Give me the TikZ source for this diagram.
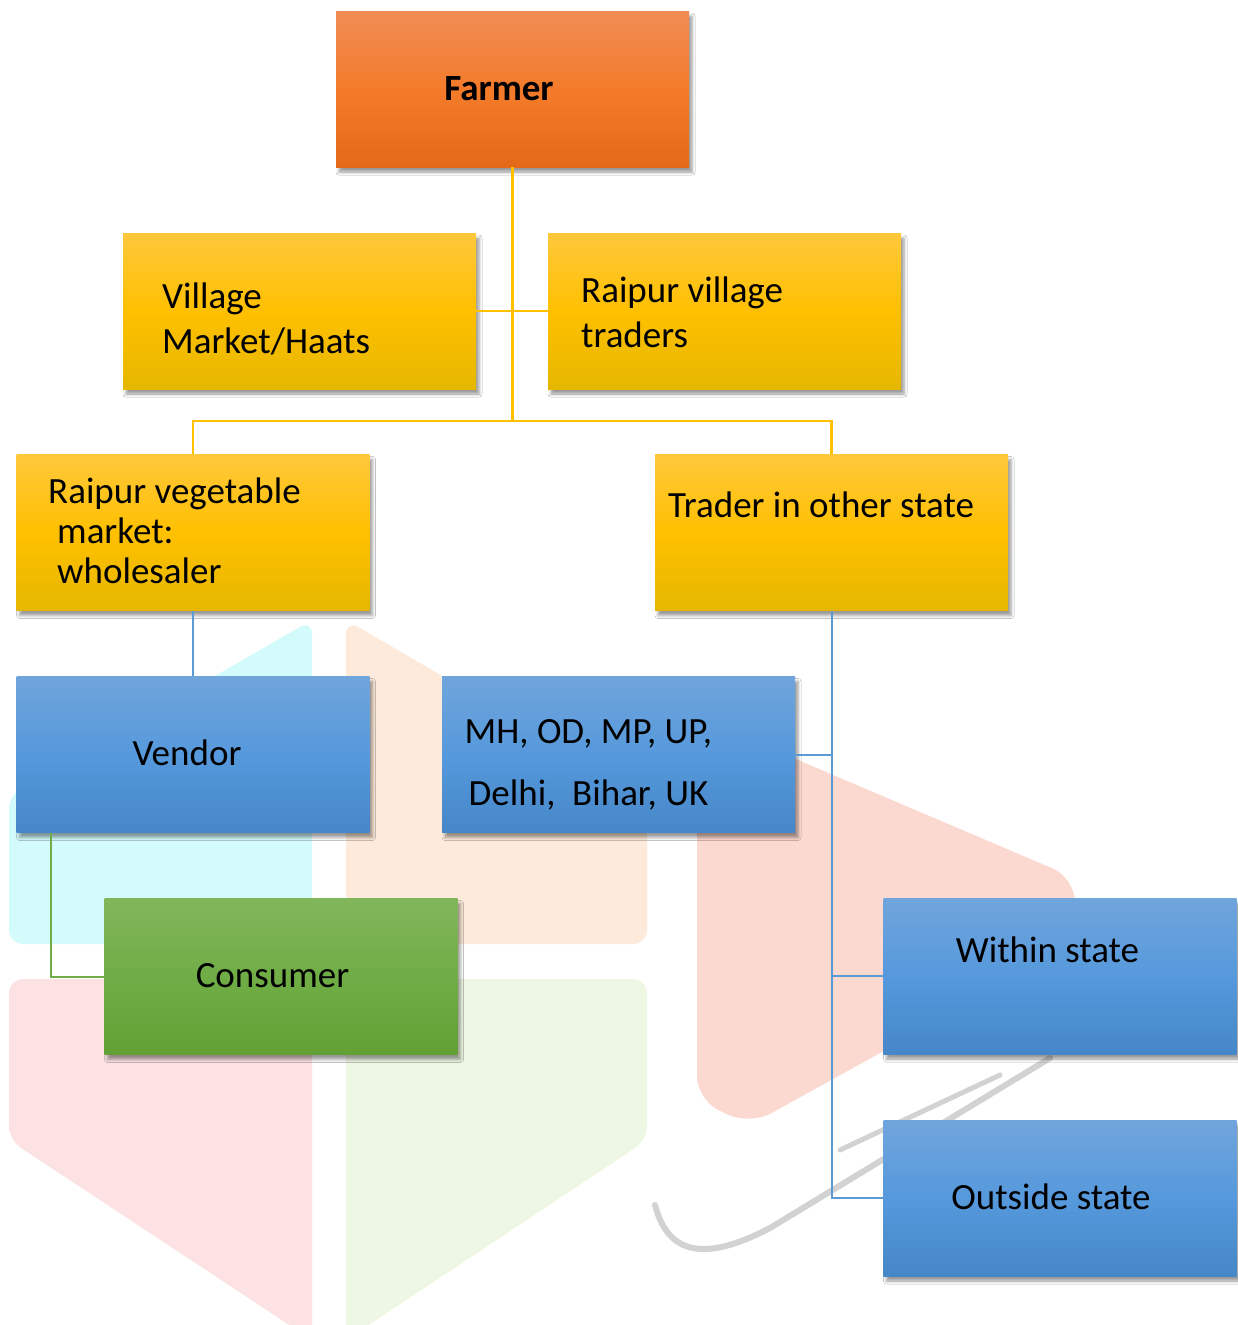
\documentclass[tikz,border=0pt]{standalone}
\usepackage{fontspec}
\setmainfont{Carlito}
\usetikzlibrary{shadows.blur}
\definecolor{orTop}{HTML}{EF8C55}
\definecolor{orMid}{HTML}{F47B2A}
\definecolor{orBot}{HTML}{E46A1A}
\definecolor{yTop}{HTML}{FFC83C}
\definecolor{yMid}{HTML}{FFC000}
\definecolor{yBot}{HTML}{E5B700}
\definecolor{bTop}{HTML}{70A5DC}
\definecolor{bMid}{HTML}{5699DC}
\definecolor{bBot}{HTML}{4587C8}
\definecolor{gTop}{HTML}{82B65C}
\definecolor{gMid}{HTML}{70AD46}
\definecolor{gBot}{HTML}{62A034}
\definecolor{lineY}{HTML}{FFC000}
\definecolor{lineB}{HTML}{5B9BD5}
\definecolor{lineG}{HTML}{70AD47}
\definecolor{wmCyan}{HTML}{D4FBFC}
\definecolor{wmPeach}{HTML}{FDEADB}
\definecolor{wmRed}{HTML}{FBD8D0}
\definecolor{wmPink}{HTML}{FCE2E3}
\definecolor{wmGreen}{HTML}{EEF7E3}
\newcommand{\lines}[1]{\begin{tabular}[t]{@{}l@{}}#1\end{tabular}}
\tikzset{
  boxbase/.style={rectangle, minimum width=353pt, minimum height=156pt, inner sep=0pt,
    blur shadow={shadow xshift=3pt, shadow yshift=-5pt, shadow blur radius=3pt, shadow opacity=40}},
  orbox/.style={boxbase, top color=orTop, bottom color=orBot, middle color=orMid},
  ybox/.style={boxbase, top color=yTop, bottom color=yBot, middle color=yMid},
  bbox/.style={boxbase, top color=bTop, bottom color=bBot, middle color=bMid},
  gbox/.style={boxbase, top color=gTop, bottom color=gBot, middle color=gMid},
  txt/.style={inner sep=0pt, font=\fontsize{37}{45}\selectfont},
  yline/.style={draw=lineY, line width=2.5pt},
  bline/.style={draw=lineB, line width=2pt},
  gline/.style={draw=lineG, line width=2pt},
  wm/.style={rounded corners=14pt}
}
\begin{document}
\begin{tikzpicture}[x=1pt, y=-1pt]
\useasboundingbox (0,0) rectangle (1238,1325);
\fill[white] (0,0) rectangle (1238,1325);
% watermark
\fill[wm, wmCyan] (9,795) -- (312,620) -- (312,944) -- (9,944) -- cycle;
\fill[wm, wmPeach] (346,620) -- (647,795) -- (647,944) -- (346,944) -- cycle;
\fill[wm, wmPink] (9,979) -- (312,979) -- (312,1340) -- (9,1140) -- cycle;
\fill[wm, wmGreen] (346,979) -- (647,979) -- (647,1140) -- (346,1340) -- cycle;
\fill[rounded corners=24pt, wmRed] (697,717) -- (1075,878) -- (1075,945) -- (750,1125) -- (697,1100) -- cycle;
\draw[gray!35, line width=6pt, line cap=round] (655,1205) .. controls (668,1255) and (705,1262) .. (770,1228) -- (1050,1058);
\draw[gray!35, line width=5pt, line cap=round] (840,1150) -- (1000,1075);

% boxes
\node[orbox] (farmer) at (512.5,89) {};
\node[ybox] (vm) at (299.5,311) {};
\node[ybox] (rvt) at (724.5,311) {};
\node[ybox] (rvm) at (193,532.5) {};
\node[ybox] (tos) at (831.5,532.5) {};
\node[bbox] (vendor) at (193,754.5) {};
\node[bbox] (mh) at (618.5,754.5) {};
\node[gbox] (cons) at (281,976.5) {};
\node[bbox] (within) at (1060,976) {};
\node[bbox] (outside) at (1060,1198) {};

% texts
\node[txt, anchor=base, font=\fontsize{37}{45}\selectfont\bfseries] (tfarmer) at (499,100) {Farmer};
\node[txt, anchor=base west] (tvm) at (162,308) {\lines{Village\\Market/Haats}};
\node[txt, anchor=base west] (trvt) at (581,302) {\lines{Raipur village\\traders}};
\node[txt, anchor=base west, font=\fontsize{37}{40}\selectfont] (trvm) at (48,503) {\lines{Raipur vegetable\\\hspace*{9pt}market:\\\hspace*{9pt}wholesaler}};
\node[txt, anchor=base west] (ttos) at (668,517) {Trader in other state};
\node[txt, anchor=base] (tvendor) at (187,765) {Vendor};
\node[txt, anchor=base west, font=\fontsize{37}{62}\selectfont] (tmh) at (464.5,743) {\lines{MH, OD, MP, UP,\\\hspace*{4pt}Delhi,\ \ Bihar, UK}};
\node[txt, anchor=base] (tcons) at (272.5,987) {Consumer};
\node[txt, anchor=base] (twithin) at (1047.5,962) {Within state};
\node[txt, anchor=base] (toutside) at (1051,1209) {Outside state};

% connectors
\coordinate (j) at (512.5,421);
\draw[yline] (farmer.south) -- (j);
\draw[yline] (vm.east) -- (rvt.west);
\draw[yline] (rvm.north) |- (j) -| (tos.north);
\draw[bline] (rvm.south) -- (vendor.north);
\draw[bline] (tos.south) |- (outside.west);
\draw[bline] (mh.east) -- (mh.east -| tos.south);
\draw[bline] (within.west) -- (within.west -| tos.south);
\draw[gline] ([xshift=35pt]vendor.south west) |- (cons.west);
\end{tikzpicture}
\end{document}
